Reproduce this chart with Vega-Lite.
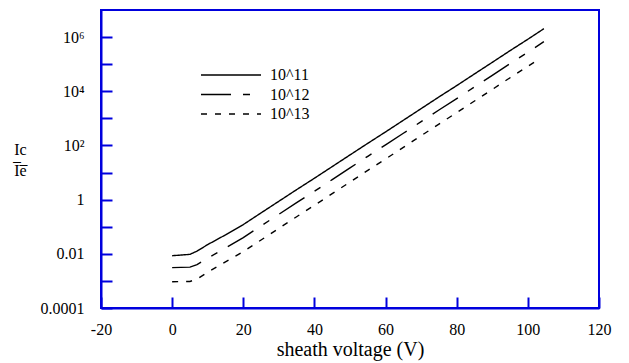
{
  "$schema": "https://vega.github.io/schema/vega-lite/v6.json",
  "autosize": "none",
  "width": 498,
  "height": 298,
  "padding": {"left": 101, "top": 10, "right": 30, "bottom": 55},
  "background": "white",
  "config": {
    "font": "Liberation Serif",
    "view": {"stroke": "#0000dd", "strokeWidth": 2},
    "legend": {"labelFont": "Liberation Serif"},
    "axis": {"grid": false, "domainColor": "#0000dd", "domainWidth": 2, "tickColor": "#0000dd", "tickWidth": 2, "labelColor": "black", "titleColor": "black", "labelFont": "Liberation Serif", "titleFont": "Liberation Serif", "labelFontSize": 16, "titleFontSize": 16, "titleFontWeight": "normal"}
  },
  "data": {"values": [
    {"s": "10^11", "v": 0, "r": 0.00851}, {"s": "10^11", "v": 5, "r": 0.00955}, {"s": "10^11", "v": 7, "r": 0.0126}, {"s": "10^11", "v": 10, "r": 0.0219}, {"s": "10^11", "v": 15, "r": 0.0501}, {"s": "10^11", "v": 20, "r": 0.12}, {"s": "10^11", "v": 25, "r": 0.324}, {"s": "10^11", "v": 30, "r": 0.871}, {"s": "10^11", "v": 35, "r": 2.34}, {"s": "10^11", "v": 40, "r": 6.17}, {"s": "10^11", "v": 45, "r": 16.6}, {"s": "10^11", "v": 50, "r": 44.7}, {"s": "10^11", "v": 55, "r": 120}, {"s": "10^11", "v": 60, "r": 316}, {"s": "10^11", "v": 65, "r": 851}, {"s": "10^11", "v": 70, "r": 2290}, {"s": "10^11", "v": 75, "r": 6170}, {"s": "10^11", "v": 80, "r": 16200}, {"s": "10^11", "v": 85, "r": 43700}, {"s": "10^11", "v": 90, "r": 117000}, {"s": "10^11", "v": 95, "r": 316000}, {"s": "10^11", "v": 100, "r": 832000}, {"s": "10^11", "v": 104.5, "r": 2040000},
    {"s": "10^12", "v": 0, "r": 0.00309}, {"s": "10^12", "v": 5, "r": 0.00324}, {"s": "10^12", "v": 7, "r": 0.00398}, {"s": "10^12", "v": 10, "r": 0.00692}, {"s": "10^12", "v": 15, "r": 0.0166}, {"s": "10^12", "v": 20, "r": 0.0398}, {"s": "10^12", "v": 25, "r": 0.107}, {"s": "10^12", "v": 30, "r": 0.288}, {"s": "10^12", "v": 35, "r": 0.776}, {"s": "10^12", "v": 40, "r": 2.04}, {"s": "10^12", "v": 45, "r": 5.5}, {"s": "10^12", "v": 50, "r": 14.8}, {"s": "10^12", "v": 55, "r": 39.8}, {"s": "10^12", "v": 60, "r": 105}, {"s": "10^12", "v": 65, "r": 282}, {"s": "10^12", "v": 70, "r": 759}, {"s": "10^12", "v": 75, "r": 2040}, {"s": "10^12", "v": 80, "r": 5370}, {"s": "10^12", "v": 85, "r": 14500}, {"s": "10^12", "v": 90, "r": 38900}, {"s": "10^12", "v": 95, "r": 105000}, {"s": "10^12", "v": 100, "r": 275000}, {"s": "10^12", "v": 104.5, "r": 676000},
    {"s": "10^13", "v": 0, "r": 0.000933}, {"s": "10^13", "v": 5, "r": 0.000955}, {"s": "10^13", "v": 7, "r": 0.00117}, {"s": "10^13", "v": 10, "r": 0.00209}, {"s": "10^13", "v": 15, "r": 0.00501}, {"s": "10^13", "v": 20, "r": 0.012}, {"s": "10^13", "v": 25, "r": 0.0324}, {"s": "10^13", "v": 30, "r": 0.0871}, {"s": "10^13", "v": 35, "r": 0.234}, {"s": "10^13", "v": 40, "r": 0.617}, {"s": "10^13", "v": 45, "r": 1.66}, {"s": "10^13", "v": 50, "r": 4.47}, {"s": "10^13", "v": 55, "r": 12.0}, {"s": "10^13", "v": 60, "r": 31.6}, {"s": "10^13", "v": 65, "r": 85.1}, {"s": "10^13", "v": 70, "r": 229}, {"s": "10^13", "v": 75, "r": 617}, {"s": "10^13", "v": 80, "r": 1620}, {"s": "10^13", "v": 85, "r": 4370}, {"s": "10^13", "v": 90, "r": 11700}, {"s": "10^13", "v": 95, "r": 31600}, {"s": "10^13", "v": 100, "r": 83200}, {"s": "10^13", "v": 102, "r": 123000}
  ]},
  "mark": {"type": "line", "color": "black", "strokeWidth": 1.4, "clip": true},
  "encoding": {
    "x": {"field": "v", "type": "quantitative", "scale": {"domain": [-20, 120], "nice": false, "zero": false},
      "axis": {"values": [-20, 0, 20, 40, 60, 80, 100, 120], "tickSize": -11, "labelPadding": 24, "title": "sheath voltage (V)", "titleFontSize": 20, "titlePadding": 2, "labelFlush": false, "labelExpr": "replace(datum.label, '−', '-')"}},
    "y": {"field": "r", "type": "quantitative", "scale": {"type": "log", "domain": [0.0001, 10000000], "nice": false},
      "axis": {"values": [0.0001, 0.001, 0.01, 0.1, 1, 10, 100, 1000, 10000, 100000, 1000000], "tickSize": -11, "labelPadding": 28, "labelFlush": false,
        "labelExpr": "datum.value < 0.0002 ? '0.0001' : (abs(datum.value - 0.01) < 0.001 ? '0.01' : (abs(datum.value - 1) < 0.1 ? '1' : (abs(datum.value - 100) < 10 ? '10²' : (abs(datum.value - 10000) < 1000 ? '10⁴' : (abs(datum.value - 1000000) < 100000 ? '10⁶' : '')))))",
        "title": ["Ic", "I̅e̅"], "titleAngle": 0, "titleAlign": "center", "titleBaseline": "middle", "titleLineHeight": 21, "titleX": -81, "titleY": 139}},
    "strokeDash": {"field": "s", "type": "nominal",
      "scale": {"domain": ["10^11", "10^12", "10^13"], "range": [[1, 0], [30, 12, 7, 12], [6, 8]]},
      "legend": {"orient": "none", "legendX": 119, "legendY": 54, "title": null, "padding": 0, "symbolType": "M-3,0H3", "symbolSize": 400, "symbolStrokeWidth": 1.4, "symbolStrokeColor": "black", "labelOffset": 28, "labelFontSize": 16, "rowPadding": 0.5}}
  }
}
